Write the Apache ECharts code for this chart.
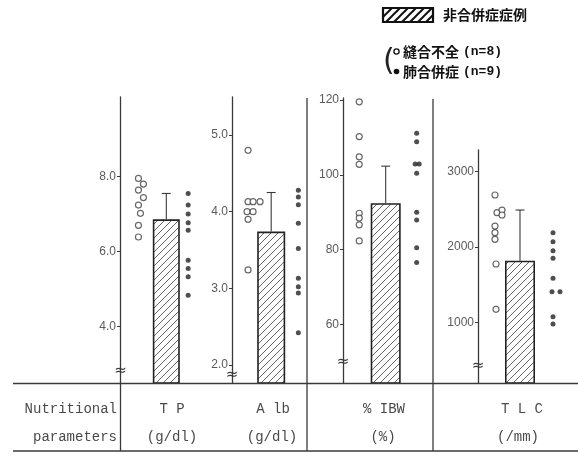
<!DOCTYPE html>
<html><head><meta charset="utf-8">
<script src="https://cdn.jsdelivr.net/npm/echarts@6/dist/echarts.min.js"></script>
<style>html,body{margin:0;padding:0;background:#fff}#c{width:578px;height:454px}</style>
</head><body><div id="c"></div>
<script>
// groups along each panel: anastomotic leak / no complication / pulmonary complication
const groups = ['縫合不全', '非合併症', '肺合併症'];

// TP (g/dl)
const tpOpen   = [7.95, 7.8, 7.64, 7.44, 7.24, 7.02, 6.7, 6.39];
const tpFilled = [7.55, 7.24, 7.0, 6.77, 6.57, 5.77, 5.55, 5.33, 4.84];
const tpMean = 6.86, tpUpper = 7.55;
const tpTicks = [4.0, 6.0, 8.0];

// Alb (g/dl)
const albOpen   = [4.80, 4.13, 4.13, 4.13, 4.0, 4.0, 3.9, 3.24];
const albFilled = [4.28, 4.19, 4.09, 3.85, 3.52, 3.13, 3.02, 2.94, 2.42];
const albMean = 3.74, albUpper = 4.25;
const albTicks = [2.0, 3.0, 4.0, 5.0];

// %IBW (%)
const ibwOpen   = [119.5, 110.2, 104.8, 102.8, 89.7, 88.4, 86.6, 82.3];
const ibwFilled = [111.1, 108.8, 102.9, 102.9, 100.4, 90.0, 87.9, 80.5, 76.5];
const ibwMean = 92.4, ibwUpper = 102.3;
const ibwTicks = [60, 80, 100, 120];

// TLC (/mm)
const tlcOpen   = [2691, 2457, 2492, 2426, 2280, 2192, 2104, 1777, 1177];
const tlcFilled = [2192, 2073, 1954, 1852, 1587, 1411, 1411, 1079, 982];
const tlcMean = 1821, tlcUpper = 2492;
const tlcTicks = [1000, 2000, 3000];

// horizontal nudges (px) that keep overlapping dots apart
const tpOpenShift    = [3, 8, 3, 8, 3, 5, 3, 3];
const tpFilledShift  = [-9, -9, -9, -9, -9, -9, -9, -9, -9];
const albOpenShift   = [3, 3, 8, 15, 2, 8, 3, 3];
const albFilledShift = [1, 1, 1, 1, 1, 1, 1, 1, 1];
const ibwOpenShift   = [2, 2, 2, 2, 2, 2, 2, 2];
const ibwFilledShift = [2.5, 2.5, 1, 5, 2.5, 2.5, 2.5, 2.5, 2.5];
const tlcOpenShift   = [3, 5, 10, 10, 3, 3, 3, 4, 4];
const tlcFilledShift = [5, 5, 5, 5, 5, 4, 12, 5, 5];

const INK = '#3a3a3a';
const LABEL = '#5a5a5a';

function hatchCanvas(step, color, lw) {
  const c = document.createElement('canvas');
  c.width = c.height = step;
  const g = c.getContext('2d');
  g.strokeStyle = color; g.lineWidth = lw; g.lineCap = 'square';
  g.beginPath();
  g.moveTo(0, step); g.lineTo(step, 0);
  g.moveTo(-2, 2); g.lineTo(2, -2);
  g.moveTo(step - 2, step + 2); g.lineTo(step + 2, step - 2);
  g.stroke();
  return c;
}
const barHatch = { image: hatchCanvas(7, '#555', 0.9), repeat: 'repeat' };
const keyHatch = { image: hatchCanvas(8, '#111', 2), repeat: 'repeat' };

const panels = [
  { left: 120, width: 92.6, top: 97,  min: 2.50,  max: 10.12,  ticks: tpTicks,  fmt: v => v.toFixed(1),
    open: tpOpen, filled: tpFilled, mean: tpMean, upper: tpUpper, oShift: tpOpenShift, fShift: tpFilledShift, bw: 27 },
  { left: 232, width: 78.4, top: 97,  min: 1.765, max: 5.496,  ticks: albTicks, fmt: v => v.toFixed(1),
    open: albOpen, filled: albFilled, mean: albMean, upper: albUpper, oShift: albOpenShift, fShift: albFilledShift, bw: 28 },
  { left: 343, width: 85.4, top: 98,  min: 44.3,  max: 120.53, ticks: ibwTicks, fmt: v => String(v),
    open: ibwOpen, filled: ibwFilled, mean: ibwMean, upper: ibwUpper, oShift: ibwOpenShift, fShift: ibwFilledShift, bw: 30 },
  { left: 478, width: 84,   top: 150, min: 201.3, max: 3287,   ticks: tlcTicks, fmt: v => String(v),
    open: tlcOpen, filled: tlcFilled, mean: tlcMean, upper: tlcUpper, oShift: tlcOpenShift, fShift: tlcFilledShift, bw: 30 }
];

const grid = [], xAxis = [], yAxis = [], series = [];
panels.forEach((p, i) => {
  grid.push({ left: p.left, width: p.width, top: p.top, bottom: 71 });
  xAxis.push({ gridIndex: i, type: 'category', data: groups, show: false });
  yAxis.push({
    gridIndex: i, type: 'value', min: p.min, max: p.max,
    splitLine: { show: false },
    axisLine: { show: true, lineStyle: { color: INK, width: 1.3 } },
    axisTick: { show: true, length: 3, customValues: p.ticks, lineStyle: { color: INK } },
    axisLabel: { customValues: p.ticks, formatter: p.fmt, margin: 4, color: LABEL,
                 fontFamily: 'Liberation Sans', fontSize: 12 }
  });
  series.push({
    type: 'bar', xAxisIndex: i, yAxisIndex: i, barWidth: p.bw,
    data: [null, p.mean, null],
    itemStyle: { color: barHatch, borderColor: '#222', borderWidth: 1.6 },
    silent: true
  });
  series.push({
    type: 'custom', xAxisIndex: i, yAxisIndex: i,
    data: [[1, p.mean, p.upper]],
    renderItem(params, api) {
      const a = api.coord([api.value(0), api.value(1)]);
      const b = api.coord([api.value(0), api.value(2)]);
      const st = { stroke: INK, lineWidth: 1.1 };
      return { type: 'group', children: [
        { type: 'line', shape: { x1: a[0], y1: a[1], x2: b[0], y2: b[1] }, style: st },
        { type: 'line', shape: { x1: b[0] - 4.5, y1: b[1], x2: b[0] + 4.5, y2: b[1] }, style: st }
      ] };
    },
    z: 3
  });
  series.push({
    type: 'scatter', xAxisIndex: i, yAxisIndex: i, symbol: 'circle', symbolSize: 6,
    itemStyle: { color: '#fff', borderColor: '#444', borderWidth: 1.2 },
    data: p.open.map((v, k) => ({ value: [0, v], symbolOffset: [p.oShift[k], 0] })), z: 4
  });
  series.push({
    type: 'scatter', xAxisIndex: i, yAxisIndex: i, symbol: 'circle', symbolSize: 5,
    itemStyle: { color: '#222' },
    data: p.filled.map((v, k) => ({ value: [2, v], symbolOffset: [p.fShift[k], 0] })), z: 4
  });
});

function vline(x, y1, y2, w) {
  return { type: 'line', shape: { x1: x, y1: y1, x2: x, y2: y2 }, style: { stroke: INK, lineWidth: w || 1.3 }, z: 10 };
}
function hline(y, x1, x2, w) {
  return { type: 'line', shape: { x1: x1, y1: y, x2: x2, y2: y }, style: { stroke: INK, lineWidth: w || 1.5 }, z: 10 };
}
function brk(x, y) {
  return { type: 'text', x: x, y: y, z: 11,
    style: { text: '≈', fontSize: 15, fontFamily: 'DejaVu Sans', fill: INK, align: 'center', verticalAlign: 'middle' } };
}
function tableText(x, y, s, size) {
  return { type: 'text', x: x, y: y, z: 11,
    style: { text: s, fontSize: size || 14, fontFamily: 'Liberation Mono', fill: '#4a4a4a', align: 'center', verticalAlign: 'middle' } };
}
const legendRich = {
  j: { fontFamily: 'Noto Sans CJK JP', fontWeight: 'bold', fontSize: 14, fill: '#111' },
  n: { fontFamily: 'Liberation Mono', fontWeight: 'bold', fontSize: 13, fill: '#111', padding: [0, 0, 0, 4] }
};

const graphic = [
  // table frame
  hline(383.5, 13, 578), hline(451, 13, 578, 1.3),
  vline(120.5, 383, 451), vline(307, 98, 451), vline(433, 99, 451),
  // axis breaks
  brk(120.5, 371), brk(232, 375), brk(343, 362), brk(478, 366),
  // table row labels
  { type: 'text', x: 117, y: 409, z: 11, style: { text: 'Nutritional', fontSize: 14, fontFamily: 'Liberation Mono', fill: '#4a4a4a', align: 'right', verticalAlign: 'middle' } },
  { type: 'text', x: 117, y: 437, z: 11, style: { text: 'parameters', fontSize: 14, fontFamily: 'Liberation Mono', fill: '#4a4a4a', align: 'right', verticalAlign: 'middle' } },
  tableText(172, 409, 'T P'), tableText(172, 437, '(g/dl)'),
  tableText(273, 409, 'A lb'), tableText(272, 437, '(g/dl)'),
  tableText(384, 409, '% IBW'), tableText(383, 437, '(%)'),
  tableText(522, 409, 'T L C'), tableText(518, 437, '(/mm)'),
  // key: hatched box
  { type: 'rect', shape: { x: 383, y: 8, width: 50, height: 14 }, style: { fill: keyHatch, stroke: '#111', lineWidth: 2.2 }, z: 11 },
  { type: 'text', x: 443, y: 15, z: 11, style: { text: '{j|非合併症症例}', rich: legendRich, verticalAlign: 'middle' } },
  // key: dot groups
  { type: 'text', x: 383, y: 62, z: 11, style: { text: '(', fontSize: 30, fontFamily: 'DejaVu Sans', fill: '#222', verticalAlign: 'middle' } },
  { type: 'circle', shape: { cx: 396.5, cy: 51.5, r: 2.6 }, style: { fill: '#fff', stroke: '#111', lineWidth: 1.3 }, z: 11 },
  { type: 'circle', shape: { cx: 396.5, cy: 71.5, r: 2.8 }, style: { fill: '#111' }, z: 11 },
  { type: 'text', x: 403, y: 52, z: 11, style: { text: '{j|縫合不全}{n|(n=8)}', rich: legendRich, verticalAlign: 'middle' } },
  { type: 'text', x: 403, y: 72, z: 11, style: { text: '{j|肺合併症}{n|(n=9)}', rich: legendRich, verticalAlign: 'middle' } }
];

const chart = echarts.init(document.getElementById('c'), null, { renderer: 'canvas' });
chart.setOption({
  animation: false,
  backgroundColor: '#fff',
  grid, xAxis, yAxis, series, graphic
});
</script>
</body></html>
